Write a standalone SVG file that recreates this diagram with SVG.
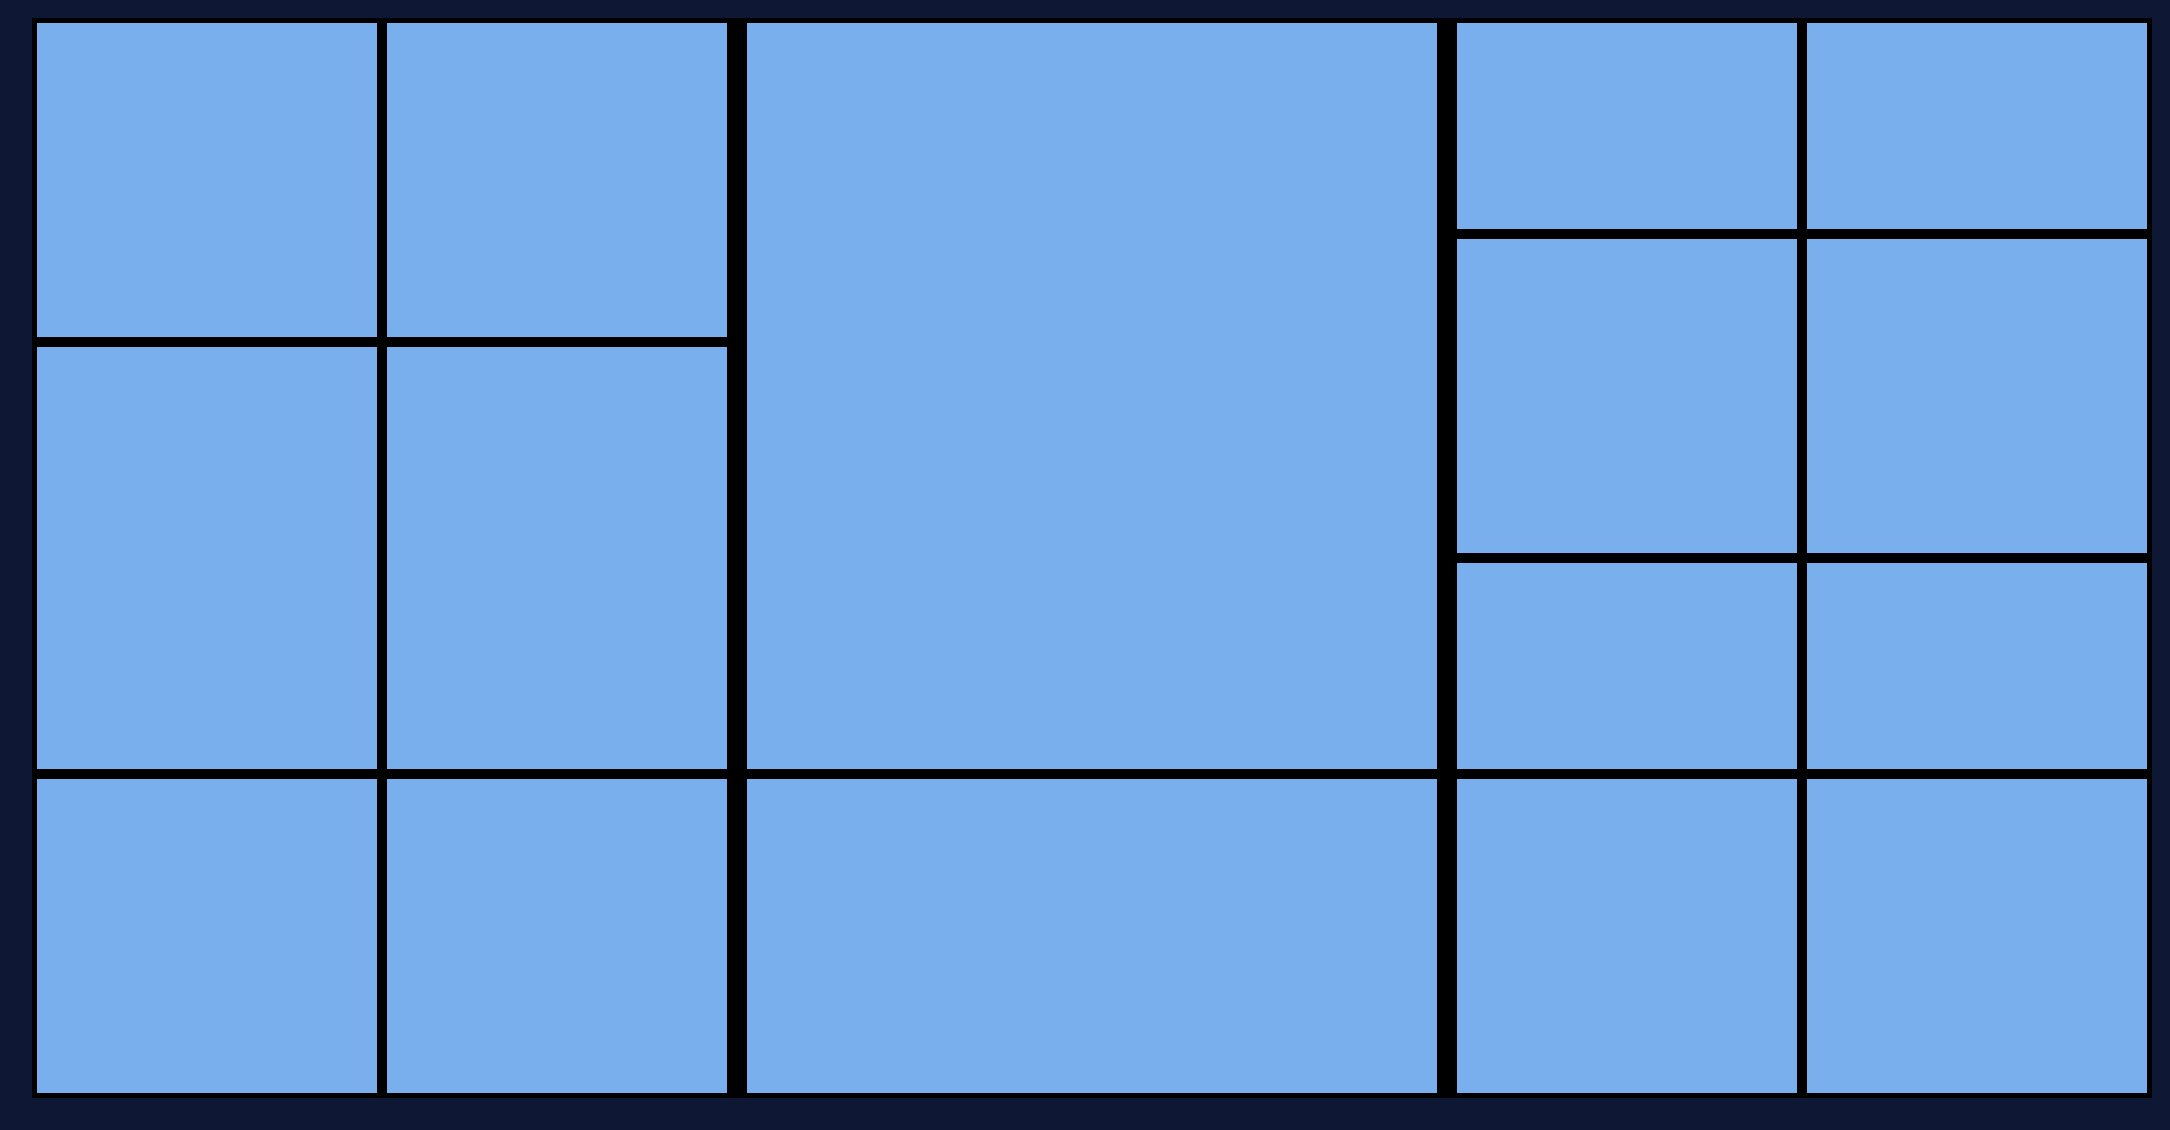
<svg xmlns="http://www.w3.org/2000/svg" width="2170" height="1130" viewBox="0 0 2170 1130">
<style>
.cell{fill:#79afed;stroke:#000;stroke-width:5}
</style>
<rect x="0" y="0" width="2170" height="1130" fill="#0e1733"/>
<rect x="32" y="18" width="2120" height="1080" fill="#000"/>
<g id="group-left">
<g id="c1"><rect class="cell" x="34.5" y="20.5" width="345" height="319"/></g>
<g id="c2"><rect class="cell" x="384.5" y="20.5" width="345" height="319"/></g>
<g id="c3"><rect class="cell" x="34.5" y="344.5" width="345" height="427"/></g>
<g id="c4"><rect class="cell" x="384.5" y="344.5" width="345" height="427"/></g>
<g id="c5"><rect class="cell" x="34.5" y="776.5" width="345" height="319"/></g>
<g id="c6"><rect class="cell" x="384.5" y="776.5" width="345" height="319"/></g>
</g>
<g id="group-middle">
<g id="c7"><rect class="cell" x="744.5" y="20.5" width="695" height="751"/></g>
<g id="c8"><rect class="cell" x="744.5" y="776.5" width="695" height="319"/></g>
</g>
<g id="group-right">
<g id="c9"><rect class="cell" x="1454.5" y="20.5" width="345" height="211"/></g>
<g id="c10"><rect class="cell" x="1804.5" y="20.5" width="345" height="211"/></g>
<g id="c11"><rect class="cell" x="1454.5" y="236.5" width="345" height="319"/></g>
<g id="c12"><rect class="cell" x="1804.5" y="236.5" width="345" height="319"/></g>
<g id="c13"><rect class="cell" x="1454.5" y="560.5" width="345" height="211"/></g>
<g id="c14"><rect class="cell" x="1804.5" y="560.5" width="345" height="211"/></g>
<g id="c15"><rect class="cell" x="1454.5" y="776.5" width="345" height="319"/></g>
<g id="c16"><rect class="cell" x="1804.5" y="776.5" width="345" height="319"/></g>
</g>
<g id="connectors"></g>
</svg>
